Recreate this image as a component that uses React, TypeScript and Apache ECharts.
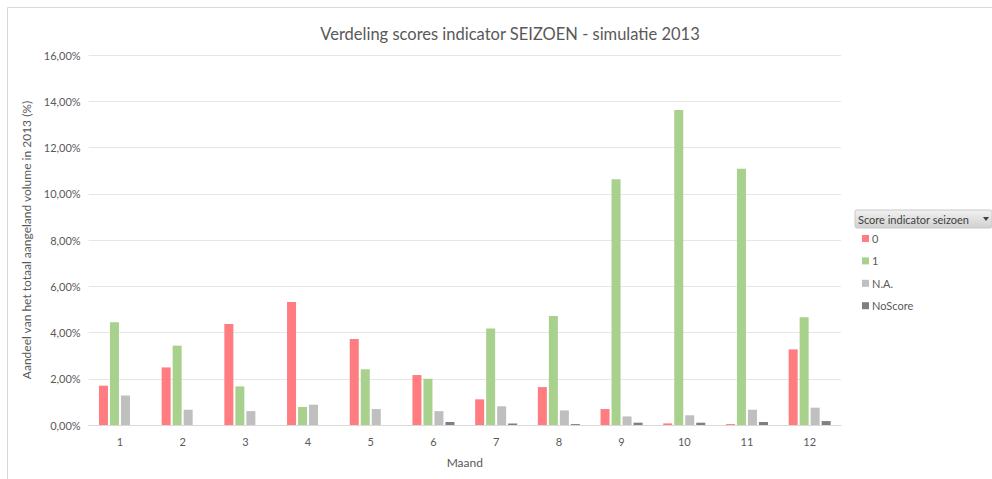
import React, { useEffect, useRef } from "react";
import * as echarts from "echarts";

const months = ["1", "2", "3", "4", "5", "6", "7", "8", "9", "10", "11", "12"];
const score0 = [1.70, 2.49, 4.37, 5.32, 3.72, 2.16, 1.11, 1.64, 0.69, 0.07, 0.04, 3.27];
const score1 = [4.44, 3.43, 1.67, 0.78, 2.41, 2.00, 4.17, 4.71, 10.63, 13.62, 11.08, 4.66];
const scoreNA = [1.28, 0.66, 0.60, 0.88, 0.69, 0.60, 0.81, 0.63, 0.37, 0.42, 0.66, 0.75];
const scoreNo = [null, null, null, null, null, 0.13, 0.07, 0.04, 0.10, 0.10, 0.13, 0.17];
const seriesNames = ["0", "1", "N.A.", "NoScore"];
const colors = ["#FF7C80", "#A9D18E", "#BFBFBF", "#7F7F7F"];

const FONT = "Lato, 'Open Sans', sans-serif";

export default function App() {
  const ref = useRef<HTMLDivElement>(null);
  useEffect(() => {
    if (!ref.current) return;
    const chart = echarts.init(ref.current, null, { renderer: "svg" });
    const data = [score0, score1, scoreNA, scoreNo];
    chart.setOption({
      animation: false,
      backgroundColor: "#ffffff",
      textStyle: { fontFamily: FONT },
      title: {
        text: "Verdeling scores indicator SEIZOEN - simulatie 2013",
        left: 505,
        textAlign: "center",
        top: 20,
        textStyle: { fontFamily: FONT, fontSize: 16.5, fontWeight: "normal", color: "#595959" },
      },
      color: colors,
      legend: {
        orient: "vertical",
        left: 857,
        top: 228,
        itemWidth: 7,
        itemHeight: 7,
        itemGap: 11.4,
        icon: "rect",
        data: seriesNames,
        textStyle: { fontFamily: FONT, fontSize: 11, color: "#595959", padding: [0, 0, 0, -2] },
      },
      grid: { left: 88.6, right: 151, top: 55, bottom: 54, containLabel: false },
      xAxis: {
        type: "category",
        data: months,
        name: "Maand",
        nameLocation: "middle",
        nameGap: 31,
        nameTextStyle: { fontFamily: FONT, fontSize: 12, color: "#595959" },
        axisTick: { show: false },
        axisLine: { lineStyle: { color: "#D9D9D9" } },
        axisLabel: { fontFamily: FONT, fontSize: 11, color: "#595959", margin: 11 },
      },
      yAxis: {
        type: "value",
        min: 0,
        max: 16,
        interval: 2,
        name: "Aandeel van het totaal aangeland volume in 2013 (%)",
        nameLocation: "middle",
        nameGap: 50,
        nameTextStyle: { fontFamily: FONT, fontSize: 12, color: "#595959" },
        axisLabel: {
          fontFamily: FONT,
          fontSize: 11,
          color: "#595959",
          margin: 8,
          formatter: (v: number) => v.toFixed(2).replace(".", ",") + "%",
        },
        splitLine: { lineStyle: { color: "#E6E6E6" } },
      },
      graphic: [
        {
          type: "rect",
          shape: { x: 7.5, y: 7.5, width: 1000, height: 500 },
          style: { fill: "none", stroke: "#D9D9D9", lineWidth: 1 },
          silent: true,
        },
        {
          type: "rect",
          shape: { x: 855, y: 210, width: 137, height: 18, r: 2 },
          style: {
            fill: new echarts.graphic.LinearGradient(0, 0, 0, 1, [
              { offset: 0, color: "#F2F2F2" },
              { offset: 1, color: "#D0D0D0" },
            ]),
            stroke: "#C8C8C8",
            lineWidth: 1,
          },
        },
        {
          type: "text",
          x: 858,
          y: 219,
          style: {
            text: "Score indicator seizoen",
            fontFamily: FONT,
            fontSize: 11,
            fill: "#404040",
            verticalAlign: "middle",
          },
        },
        {
          type: "polygon",
          shape: { points: [[983, 217], [989, 217], [986, 221]] },
          style: { fill: "#404040" },
        },
      ],
      series: seriesNames.map((name, i) => ({
        name,
        type: "bar",
        data: data[i],
        barGap: "22%",
        barCategoryGap: "33%",
        itemStyle: { color: colors[i] },
      })),
    });
    return () => chart.dispose();
  }, []);
  return (
    <div
      ref={ref}
      style={{ position: "fixed", left: 0, top: 0, width: 992, height: 479 }}
    />
  );
}
